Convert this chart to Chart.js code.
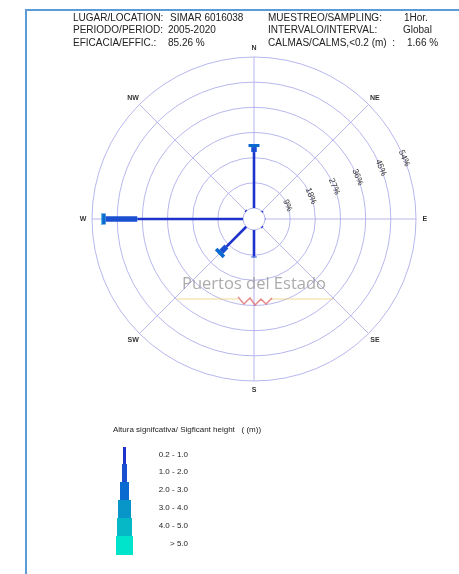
<!DOCTYPE html>
<html><head><meta charset="utf-8">
<script src="https://cdn.jsdelivr.net/npm/chart.js@4/dist/chart.umd.min.js"></script>
<style>html,body{margin:0;padding:0;background:#fff;overflow:hidden}canvas{display:block}</style>
</head><body><canvas id="c" width="459" height="574"></canvas>
<script>
// ---- DATA ----
const directions = ['N', 'NE', 'E', 'SE', 'S', 'SW', 'W', 'NW'];
const bearings = [0, 45, 90, 135, 180, 225, 270, 315];
const classLabels = ['0.2 - 1.0', '1.0 - 2.0', '2.0 - 3.0', '3.0 - 4.0', '4.0 - 5.0', '> 5.0'];
// frequency (%) by direction for each significant-height class
const hs_02_10 = [20.0, 0.1, 0.1, 0.4, 9.5, 10.0, 37.8, 0.4];
const hs_10_20 = [1.8, 0.0, 0.0, 0.0, 0.3, 2.6, 11.3, 0.0];
const hs_20_30 = [1.1, 0.0, 0.0, 0.0, 0.0, 1.3, 1.3, 0.0];
const hs_30_40 = [0.0, 0.0, 0.0, 0.0, 0.0, 0.0, 0.25, 0.0];
const hs_40_50 = [0.0, 0.0, 0.0, 0.0, 0.0, 0.0, 0.05, 0.0];
const hs_gt_50 = [0.0, 0.0, 0.0, 0.0, 0.0, 0.0, 0.0, 0.0];
const ringTicks = [9, 18, 27, 36, 45, 54];
const ringLabels = ['9%', '18%', '27%', '36%', '45%', '54%'];
const headerLeft = [['LUGAR/LOCATION:', 'SIMAR 6016038'], ['PERIODO/PERIOD:', '2005-2020'], ['EFICACIA/EFFIC.:', '85.26 %']];
const headerRight = [['MUESTREO/SAMPLING:', '1Hor.'], ['INTERVALO/INTERVAL:', 'Global'], ['CALMAS/CALMS,<0.2 (m)  :', '1.66 %']];

// ---- STYLE ----
const series = [hs_02_10, hs_10_20, hs_20_30, hs_30_40, hs_40_50, hs_gt_50];
const classColors = ['#1f33cc', '#1a4fd2', '#0a6ad0', '#0896c8', '#06b8c6', '#00e4cc'];
const classWidths = [2.6, 5.5, 11, 12, 13, 14];
const legendWidths = [3, 5, 9, 13, 15, 17];
const HOLE = 3.93; // calm circle radius in % units
const RMAX = HOLE + ringTicks[ringTicks.length - 1];
const FONT = '"Liberation Sans", Arial, sans-serif';

function xy(r, deg) { const a = deg * Math.PI / 180; return { x: r * Math.sin(a), y: r * Math.cos(a) }; }

const datasets = [];
bearings.forEach((b, d) => {
  let cum = HOLE;
  series.forEach((s, c) => {
    const v = s[d];
    if (v > 0) {
      datasets.push({
        data: [xy(cum, b), xy(cum + v, b)],
        showLine: true, borderColor: classColors[c], backgroundColor: classColors[c],
        borderWidth: classWidths[c], borderCapStyle: 'butt', pointRadius: 0, order: -c
      });
      cum += v;
    }
  });
});

const rosePlugin = {
  id: 'rose',
  beforeDatasetsDraw(chart) {
    const ctx = chart.ctx, xs = chart.scales.x, ys = chart.scales.y;
    const cx = xs.getPixelForValue(0), cy = ys.getPixelForValue(0);
    const px = v => xs.getPixelForValue(v) - cx;
    ctx.save();
    // frame
    ctx.strokeStyle = '#5b9bd8'; ctx.lineWidth = 2;
    ctx.beginPath(); ctx.moveTo(25, 10); ctx.lineTo(459, 10); ctx.moveTo(26, 10); ctx.lineTo(26, 574); ctx.stroke();
    // header
    ctx.fillStyle = '#222'; ctx.font = '10px ' + FONT; ctx.textBaseline = 'alphabetic'; ctx.textAlign = 'left';
    const hy = [20.5, 33, 45.5];
    const lv = [170, 168, 168];
    headerLeft.forEach((h, i) => { ctx.fillText(h[0], 73, hy[i]); ctx.fillText(h[1], lv[i], hy[i]); });
    const rv = [404, 403, 407];
    headerRight.forEach((h, i) => { ctx.fillText(h[0], 268, hy[i]); ctx.fillText(h[1], rv[i], hy[i]); });
    // rings
    ctx.strokeStyle = 'rgba(170,170,235,0.85)'; ctx.lineWidth = 1;
    ringTicks.forEach(t => { ctx.beginPath(); ctx.arc(cx, cy, px(HOLE + t), 0, Math.PI * 2); ctx.stroke(); });
    ctx.beginPath(); ctx.arc(cx, cy, px(HOLE), 0, Math.PI * 2); ctx.stroke();
    // spokes
    bearings.forEach(b => {
      const p0 = xy(HOLE, b), p1 = xy(RMAX, b);
      ctx.beginPath();
      ctx.moveTo(xs.getPixelForValue(p0.x), ys.getPixelForValue(p0.y));
      ctx.lineTo(xs.getPixelForValue(p1.x), ys.getPixelForValue(p1.y));
      ctx.stroke();
    });
    // direction labels
    ctx.fillStyle = '#333'; ctx.font = 'bold 7px ' + FONT; ctx.textAlign = 'center'; ctx.textBaseline = 'middle';
    bearings.forEach((b, i) => {
      const p = xy(RMAX + 3.2, b);
      ctx.fillText(directions[i], xs.getPixelForValue(p.x), ys.getPixelForValue(p.y));
    });
    ctx.restore();
  },
  afterDatasetsDraw(chart) {
    const ctx = chart.ctx, xs = chart.scales.x, ys = chart.scales.y;
    ctx.save();
    // ring labels
    ctx.fillStyle = '#333'; ctx.font = '8.5px ' + FONT; ctx.textAlign = 'center'; ctx.textBaseline = 'middle';
    const lb = 68;
    ringTicks.forEach((t, i) => {
      const p = xy(HOLE + t, lb);
      ctx.save();
      ctx.translate(xs.getPixelForValue(p.x), ys.getPixelForValue(p.y));
      ctx.rotate(lb * Math.PI / 180);
      ctx.fillText(ringLabels[i], 0, 0);
      ctx.restore();
    });
    // watermark
    ctx.fillStyle = 'rgba(150,150,150,0.8)'; ctx.font = '16.5px "Open Sans", sans-serif'; ctx.textBaseline = 'alphabetic';
    ctx.fillText('Puertos del Estado', 254, 289);
    ctx.strokeStyle = 'rgba(240,205,110,0.75)'; ctx.lineWidth = 1.2;
    ctx.beginPath(); ctx.moveTo(177, 299); ctx.lineTo(238, 299); ctx.moveTo(270, 299); ctx.lineTo(333, 299); ctx.stroke();
    ctx.strokeStyle = 'rgba(220,90,90,0.7)'; ctx.lineWidth = 1.5;
    ctx.beginPath();
    ctx.moveTo(238, 297); ctx.lineTo(244, 304); ctx.lineTo(250, 298); ctx.lineTo(255, 305); ctx.lineTo(261, 299); ctx.lineTo(266, 304); ctx.lineTo(272, 298);
    ctx.stroke();
    // legend
    ctx.fillStyle = '#222'; ctx.font = '8px ' + FONT; ctx.textAlign = 'left';
    ctx.fillText('Altura signifcativa/ Sigficant height   ( (m))', 113, 432);
    const tops = [447, 464, 482, 500, 518, 536, 555];
    ctx.textAlign = 'right';
    classLabels.forEach((l, i) => {
      ctx.fillStyle = classColors[i];
      const w = legendWidths[i];
      ctx.fillRect(124.5 - w / 2, tops[i], w, tops[i + 1] - tops[i]);
      ctx.fillStyle = '#222';
      ctx.fillText(l, 188, tops[i] + 10);
    });
    ctx.restore();
  }
};

new Chart(document.getElementById('c'), {
  type: 'scatter',
  data: { datasets },
  options: {
    responsive: false, animation: false,
    layout: { padding: { left: 92, right: 43, top: 57, bottom: 193 } },
    scales: {
      x: { type: 'linear', min: -RMAX, max: RMAX, display: false },
      y: { type: 'linear', min: -RMAX, max: RMAX, display: false }
    },
    plugins: { legend: { display: false }, tooltip: { enabled: false } }
  },
  plugins: [rosePlugin]
});
</script>
</body></html>
